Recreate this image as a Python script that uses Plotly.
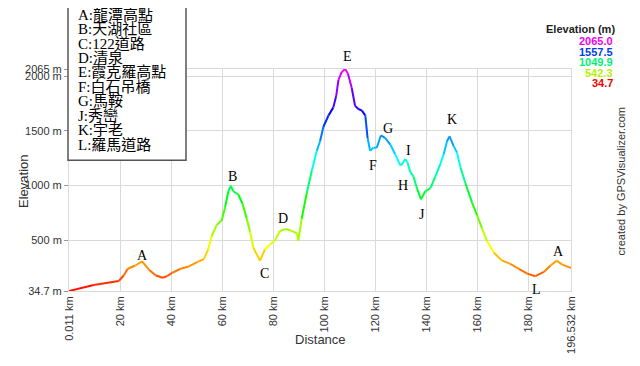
import colorsys
import plotly.graph_objects as go

# ---------------- data ----------------
distance_km = [0.011, 9.7, 19.5, 21.5, 23.0, 26.0, 28.6, 31.3, 33.9, 36.5, 38.4, 40.4,
               43.7, 46.9, 50.2, 52.8, 54.5, 55.8, 57.8, 59.8, 61.1, 62.4, 63.4, 64.3,
               66.3, 68.0, 69.6, 70.9, 72.2, 74.8, 76.7, 78.7, 80.6, 82.6, 84.6, 86.5,
               89.2, 89.8, 91.1, 93.1, 95.1, 97.0, 98.3, 99.6, 101.6, 103.5, 104.6, 105.5,
               106.8, 108.1, 109.2, 110.7, 112.0, 113.3, 114.7, 116.0, 116.9, 117.9, 119.2,
               120.5, 122.1, 123.8, 125.8, 127.7, 129.7, 130.7, 131.6, 132.5, 133.6, 134.9,
               136.2, 137.8, 139.5, 141.5, 143.4, 145.4, 146.7, 148.0, 149.0, 150.6, 151.9,
               153.2, 155.2, 157.8, 159.8, 161.7, 163.7, 166.3, 169.6, 172.8, 176.1, 179.4,
               182.6, 185.9, 188.5, 190.9, 193.1, 195.7, 196.532]
elevation_m = [34.7, 90, 126, 179, 238, 268, 306, 230, 179, 156, 170, 200,
               238, 259, 298, 327, 415, 533, 637, 681, 799, 947, 997, 947,
               917, 829, 696, 577, 430, 312, 415, 460, 495, 584, 601, 592,
               563, 495, 696, 932, 1139, 1316, 1404, 1537, 1640, 1714, 1817, 1965,
               2038, 2065, 2024, 1891, 1728, 1699, 1684, 1640, 1434, 1316, 1345,
               1345, 1457, 1434, 1374, 1286, 1183, 1203, 1241, 1212, 1124, 1080,
               976, 873, 947, 976, 1080, 1197, 1286, 1404, 1449, 1360, 1301,
               1168, 1020, 843, 725, 607, 489, 386, 312, 283, 238, 194,
               170, 209, 268, 312, 276, 253, 247]

waypoint_names = ["A", "B", "C", "D", "E", "F", "G", "I", "H", "J", "K", "L", "A"]
waypoint_km = [28.6, 63.4, 74.8, 84.6, 108.1, 117.9, 122.1, 131.6, 129.7, 137.8, 149.0, 182.6, 190.9]
waypoint_elev = [306, 997, 312, 601, 2065, 1316, 1457, 1241, 1183, 873, 1449, 170, 312]

legend_entries = ["A:龍潭高點", "B:天湖社區", "C:122道路", "D:清泉", "E:霞克羅高點",
                  "F:白石吊橋", "G:馬鞍", "J:秀巒", "K:宇老", "L:羅馬道路"]

x_tickvals = [0.011, 20, 40, 60, 80, 100, 120, 140, 160, 180, 196.532]
x_ticktext = ["0.011 km", "20 km", "40 km", "60 km", "80 km", "100 km", "120 km",
              "140 km", "160 km", "180 km", "196.532 km"]
y_tickvals = [34.7, 500, 1000, 1500, 2000, 2065]
y_ticktext = ["34.7 m", "500 m", "1000 m", "1500 m", "2000 m", "2065 m"]

scale_values = [2065.0, 1557.5, 1049.9, 542.3, 34.7]

# ---------------- styling ----------------
OFF = 8                      # page body margin of the html page
W, H = 640 - OFF, 366 - OFF
ML, MT = 61, 61
PW, PH = 502, 229
MR, MB = W - ML - PW, H - MT - PH
E_MIN, E_MAX = min(elevation_m), max(elevation_m)

# label pixel offsets (dx right, dy up) from each waypoint
label_offsets = [(0, 6), (2, 9), (4, -13), (-2, 11), (2, 13), (3, -15), (7, 7),
                 (3, 9), (3, -20), (1, -15), (2, 17), (1, -13), (2, 9)]


def px(x, y):
    """page pixel -> paper coordinates"""
    return (x - OFF - ML) / PW, (H - MB - (y - OFF)) / PH


def elev_color(e, v=1.0):
    f = (e - E_MIN) / (E_MAX - E_MIN)
    r, g, b = colorsys.hsv_to_rgb(300.0 / 360.0 * f, 1.0, v)
    return "rgb(%d,%d,%d)" % (round(r * 255), round(g * 255), round(b * 255))


fig = go.Figure()
for i in range(len(distance_km) - 1):
    e_mid = (elevation_m[i] + elevation_m[i + 1]) / 2
    fig.add_trace(go.Scatter(
        x=distance_km[i:i + 2], y=elevation_m[i:i + 2], mode="lines",
        line=dict(color=elev_color(e_mid), width=2), hoverinfo="skip",
        showlegend=False))

annotations = []
serif = "Liberation Serif, Times New Roman, serif"
for name, xk, ye, (dx, dy) in zip(waypoint_names, waypoint_km, waypoint_elev, label_offsets):
    annotations.append(dict(x=xk, y=ye, xref="x", yref="y", text=name, showarrow=False,
                            xshift=dx, yshift=dy, font=dict(family=serif, size=14, color="black")))

# legend box text lines
for i, t in enumerate(legend_entries):
    ax, ay = px(76, 13 + i * 14.9)
    annotations.append(dict(x=ax, y=ay, xref="paper", yref="paper", text=t, showarrow=False,
                            xanchor="left", yanchor="middle",
                            font=dict(family="Liberation Serif, Noto Sans CJK TC, serif", size=15,
                                      color="black")))

sans = "Liberation Sans, Arial, sans-serif"
# axis titles
ax, ay = px(14, 185)
annotations.append(dict(x=ax, y=ay, xref="paper", yref="paper", text="Elevation", textangle=-90,
                        showarrow=False, font=dict(family=sans, size=13, color="#333")))
ax, ay = px(320, 358)
annotations.append(dict(x=ax, y=ay, xref="paper", yref="paper", text="Distance",
                        showarrow=False, font=dict(family=sans, size=13, color="#333")))
# credit
ax, ay = px(629, 185)
annotations.append(dict(x=ax, y=ay, xref="paper", yref="paper", text="created by GPSVisualizer.com",
                        textangle=-90, showarrow=False, font=dict(family=sans, size=11, color="#333")))
# color scale legend
ax, ay = px(617, 19)
annotations.append(dict(x=ax, y=ay, xref="paper", yref="paper", text="<b>Elevation (m)</b>",
                        xanchor="right", showarrow=False, font=dict(family=sans, size=11, color="#222")))
for i, v in enumerate(scale_values):
    ax, ay = px(615, 32 + i * 10.8)
    annotations.append(dict(x=ax, y=ay, xref="paper", yref="paper", text="<b>%.1f</b>" % v,
                            xanchor="right", showarrow=False,
                            font=dict(family=sans, size=11, color=elev_color(v, 0.95))))

bx0, by0 = px(68, 163)
bx1, by1 = px(186, 5)
shapes = [dict(type="rect", xref="paper", yref="paper", x0=bx0, y0=by0, x1=bx1, y1=by1,
               line=dict(color="#555", width=1.5), fillcolor="white", layer="above")]

grid = "#d9d9d9"
fig.update_layout(
    width=W, height=H, margin=dict(l=ML, r=MR, t=MT, b=MB),
    paper_bgcolor="white", plot_bgcolor="white",
    annotations=annotations, shapes=shapes,
    xaxis=dict(range=[x_tickvals[0], x_tickvals[-1]], tickvals=x_tickvals, ticktext=x_ticktext,
               tickangle=-90, showgrid=True, gridcolor=grid, gridwidth=1, zeroline=False,
               showline=True, linecolor=grid, mirror=True, ticks="",
               tickfont=dict(family=sans, size=11, color="#333")),
    yaxis=dict(range=[y_tickvals[0], y_tickvals[-1]], tickvals=y_tickvals, ticktext=y_ticktext,
               showgrid=True, gridcolor=grid, gridwidth=1, zeroline=False,
               showline=True, linecolor=grid, mirror=True, ticks="outside", ticklen=4,
               tickcolor="#999", tickfont=dict(family=sans, size=11, color="#333")),
)

fig.write_html("out.html")
